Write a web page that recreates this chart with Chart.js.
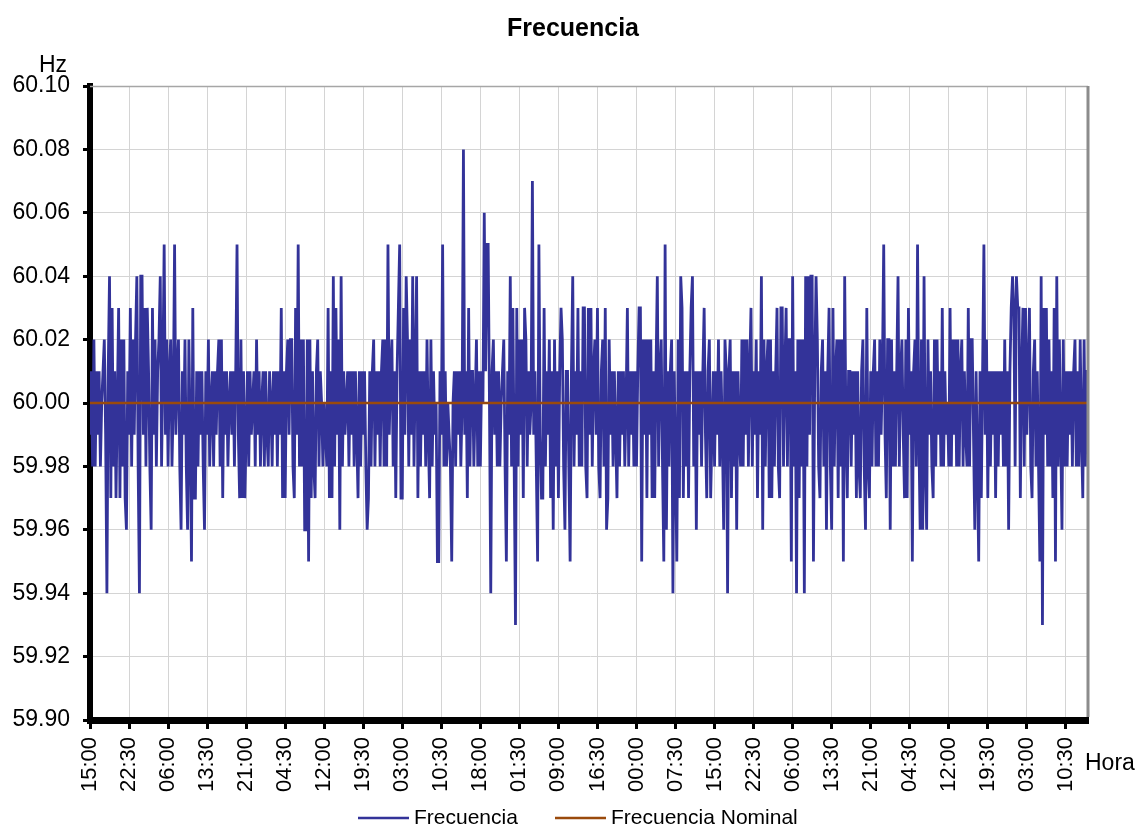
<!DOCTYPE html>
<html>
<head>
<meta charset="utf-8">
<script src="https://cdn.jsdelivr.net/npm/chart.js@4/dist/chart.umd.min.js"></script>
<style>
  html, body { margin: 0; padding: 0; background: #ffffff; }
  #wrap { width: 1137px; height: 827px; }
</style>
</head>
<body>
<div id="wrap"><canvas id="c" width="1137" height="827"></canvas></div>
<script>
// Etiquetas del eje de tiempo (una cada 7,5 h)
const tickLabels = ['15:00','22:30','06:00','13:30','21:00','04:30','12:00','19:30','03:00','10:30',
                    '18:00','01:30','09:00','16:30','00:00','07:30','15:00','22:30','06:00','13:30',
                    '21:00','04:30','12:00','19:30','03:00','10:30'];
const pointsPerTick = 30;          // registros cada 15 min -> 30 por etiqueta
const nominalHz = 60;              // frecuencia nominal
const yTicks = [59.90, 59.92, 59.94, 59.96, 59.98, 60.00, 60.02, 60.04, 60.06, 60.08, 60.10];

// Desviación de la frecuencia respecto a 60 Hz, en centésimas de Hz (una fila = 12 h)
const freqDev = [
  -1,1,-2,2,-2,1,-1,1,-2,0,1,2,-1,-6,1,4,-3,3,-2,1,-3,0,3,-3,2,-2,2,-3,-4,1,-1,3,-2,2,-1,2,4,-2,-6,4,4,-1,3,-2,3,1,-2,-4,
  3,-1,2,-2,1,2,4,-2,1,5,-1,2,-2,1,2,-2,0,5,-1,1,2,-2,-4,1,-1,2,-2,-4,2,-1,-5,3,-3,-3,1,-2,1,-1,1,-2,-4,1,-1,2,-2,0,1,-2,
  1,-1,1,2,-2,2,-3,1,-1,1,-2,0,1,-1,1,-2,1,5,-1,-3,2,-3,1,-3,-1,1,-2,1,-1,0,1,-2,2,-1,1,-2,0,1,-2,1,-1,-2,1,0,-2,1,-1,1,
  -2,1,-1,3,-3,1,-3,1,2,-1,2,2,-2,-3,3,-1,5,-2,2,-2,2,-4,-4,2,-5,2,-3,1,-2,-3,1,2,-2,1,0,-2,0,-1,-2,3,-3,1,-3,4,-2,3,-1,2,
  -4,4,-2,1,-1,0,1,-2,1,-1,1,-2,1,-1,-3,1,-2,1,-1,1,-2,-4,-3,1,-2,1,2,-2,1,-1,1,-2,1,2,-2,2,-2,5,-1,1,2,-2,1,-3,1,3,5,-3,
  -3,3,-1,4,2,-2,2,-1,4,-2,1,4,-3,1,-2,1,-1,1,-2,2,-1,-3,2,-2,1,-1,0,-5,-5,1,-1,5,-2,1,-2,0,-1,-2,-5,0,1,-2,1,-1,1,-2,0,8,
  -1,1,-3,3,-2,1,1,-2,0,2,-2,1,-2,1,0,6,1,5,5,0,-6,1,2,-1,1,-2,1,-2,0,1,2,-2,-5,1,-1,4,-2,3,-2,-7,3,-2,2,-1,2,-3,3,2,
  -2,1,-1,0,7,-1,1,-2,-5,5,-1,-3,-3,3,-2,1,-1,2,-3,1,-4,2,-2,1,-3,1,3,2,-2,-4,1,1,-2,-5,1,4,-2,1,-1,3,-2,1,-2,3,3,-2,-3,3,
  -1,3,-2,1,2,-1,3,-2,-3,1,2,-2,3,-4,-3,2,-1,1,-2,1,-1,-3,1,-2,1,-1,1,-2,0,3,-2,1,-1,1,-2,1,-2,1,3,3,-5,2,-1,2,-3,2,-1,2,
  -3,1,-3,1,4,-2,1,2,-2,-5,5,-4,1,-2,1,2,-6,1,-2,-5,2,-3,4,3,-3,1,-2,1,-3,1,3,4,-2,1,-4,1,-1,1,-2,1,3,-1,-3,1,2,-3,-1,1,
  -2,1,-1,2,-2,1,-1,-4,2,1,-6,1,2,-3,1,-2,1,-4,1,-1,-2,2,-2,2,-1,2,-2,1,3,-2,1,-1,2,-3,1,-1,4,-4,2,-2,1,2,-3,2,-3,1,-2,1,
  3,-2,-3,3,3,-2,1,3,-2,2,2,-5,4,-2,1,-6,2,-3,2,-2,2,-6,4,-2,4,-1,4,4,-5,1,4,2,-2,-3,1,2,-2,1,-4,1,3,-2,-4,3,-2,1,2,-3,
  2,-2,2,-5,4,-1,-3,1,1,-2,1,-1,1,-3,1,-2,-3,1,2,-2,-4,3,-2,-3,1,-2,1,2,-2,1,-2,2,-1,1,5,-1,-3,2,2,-4,2,-2,1,-2,1,4,-2,1,
  2,-1,-3,2,-3,3,-1,1,-5,1,2,-2,5,-1,-4,2,-4,4,-2,-4,2,-1,1,-2,-3,2,-2,2,-1,1,-2,3,-2,1,-1,0,-2,3,-2,2,-1,2,-2,2,-2,1,2,-2,
  1,-1,-2,3,-2,2,2,-1,-4,1,-2,-5,1,-3,1,5,-1,2,-3,1,-2,1,-1,1,-3,1,-2,1,-1,1,-2,2,-2,1,-4,1,3,4,3,-2,4,3,3,-3,1,3,-2,3,
  -1,1,3,-2,-3,1,2,-2,1,-2,-5,4,-7,3,-1,3,-2,2,-2,1,-3,3,-5,4,-2,2,-1,-4,2,-2,1,-2,1,-1,1,-2,1,2,-2,1,-2,2,-1,-3,2,-2,1,1
];

const lastIndex = freqDev.length - 1;
const freqPoints = freqDev.map((d, i) => ({ x: i, y: +(nominalHz + d / 100).toFixed(2) }));
const nominalPoints = [{ x: 0, y: nominalHz }, { x: lastIndex, y: nominalHz }];

const FONT = "'Liberation Sans', Arial, sans-serif";

// Título, rótulos de unidades, marco y leyenda
const decor = {
  id: 'decor',
  afterDraw(chart) {
    const { ctx, chartArea: a } = chart;
    ctx.save();
    // marco superior y derecho
    ctx.strokeStyle = '#a6a6a6';
    ctx.lineWidth = 1.5;
    ctx.beginPath();
    ctx.moveTo(a.left, a.top + 0.5);
    ctx.lineTo(a.right, a.top + 0.5);
    ctx.stroke();
    ctx.strokeStyle = '#8c8c8c';
    ctx.lineWidth = 3;
    ctx.beginPath();
    ctx.moveTo(a.right, a.top);
    ctx.lineTo(a.right, a.bottom - 3);
    ctx.stroke();

    ctx.fillStyle = '#000';
    ctx.textBaseline = 'alphabetic';
    ctx.font = 'bold 25px ' + FONT;
    ctx.textAlign = 'center';
    ctx.fillText('Frecuencia', 573, 36);

    ctx.font = '23px ' + FONT;
    ctx.textAlign = 'right';
    ctx.fillText('Hz', 67, 72);
    ctx.textAlign = 'left';
    ctx.fillText('Hora', 1085, 770);

    // leyenda
    const items = chart.data.datasets.map(ds => ({ text: ds.label, color: ds.borderColor }));
    const starts = [358, 555];
    ctx.font = '21px ' + FONT;
    ctx.textBaseline = 'middle';
    items.forEach((it, k) => {
      const x = starts[k];
      ctx.strokeStyle = it.color;
      ctx.lineWidth = 2.5;
      ctx.beginPath();
      ctx.moveTo(x, 818);
      ctx.lineTo(x + 51, 818);
      ctx.stroke();
      ctx.fillStyle = '#000';
      ctx.fillText(it.text, x + 56, 818);
    });
    ctx.restore();
  }
};

new Chart(document.getElementById('c'), {
  type: 'line',
  data: {
    datasets: [
      { label: 'Frecuencia', data: freqPoints, borderColor: '#333399', backgroundColor: '#333399',
        borderWidth: 2.8, pointRadius: 0, tension: 0, order: 1 },
      { label: 'Frecuencia Nominal', data: nominalPoints, borderColor: '#9a4a0c', backgroundColor: '#9a4a0c',
        borderWidth: 2.5, pointRadius: 0, tension: 0, order: 0 }
    ]
  },
  options: {
    responsive: false,
    animation: false,
    devicePixelRatio: 1,
    layout: { padding: { top: 86, right: 49, left: 0, bottom: 0 } },
    plugins: { legend: { display: false }, tooltip: { enabled: false }, title: { display: false } },
    scales: {
      x: {
        type: 'linear',
        min: 0,
        max: lastIndex,
        afterBuildTicks: axis => { axis.ticks = tickLabels.map((_, k) => ({ value: k * pointsPerTick })); },
        afterFit: scale => { scale.height = 107; },
        ticks: {
          autoSkip: false, maxRotation: 90, minRotation: 90, padding: 8,
          color: '#000', font: { family: FONT, size: 22 },
          callback: v => tickLabels[Math.round(v / pointsPerTick)] ?? ''
        },
        grid: { color: '#d4d4d4', lineWidth: 1, tickLength: 9, tickColor: '#000', tickWidth: 3 },
        border: { color: '#000', width: 7 }
      },
      y: {
        min: 59.9,
        max: 60.1,
        afterBuildTicks: axis => { axis.ticks = yTicks.map(v => ({ value: v })); },
        afterFit: scale => { scale.width = 90; },
        ticks: {
          padding: 13, color: '#000', font: { family: FONT, size: 23 },
          callback: v => Number(v).toFixed(2)
        },
        grid: { color: '#d4d4d4', lineWidth: 1, tickLength: 7, tickColor: '#000', tickWidth: 3 },
        border: { color: '#000', width: 6 }
      }
    }
  },
  plugins: [decor]
});
</script>
</body>
</html>
